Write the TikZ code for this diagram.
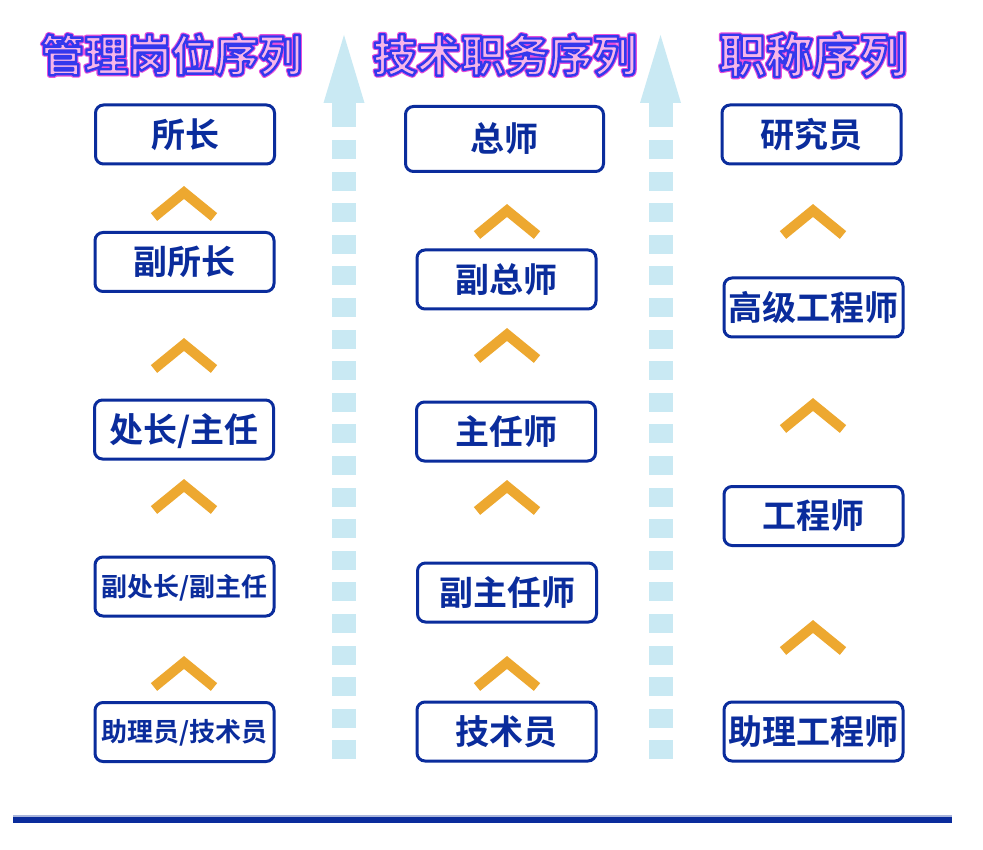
\documentclass[tikz,border=0pt]{standalone}
\usepackage{fontspec}
\usetikzlibrary{calc}
\newfontfamily\cjk[BoldFont={Noto Sans CJK SC Bold}]{Noto Sans CJK SC}
\definecolor{boxblue}{HTML}{0A2C9C}
\definecolor{chevorange}{HTML}{EDA830}
\definecolor{arrowblue}{HTML}{C9E9F3}
\newcommand\glowtext[1]{%
  \special{pdf:code q 1 Tr 4.6 w 1 j 0.91 0.31 0.85 RG}%
  #1%
  \special{pdf:code Q}}
\newcommand\outlinedtext[1]{%
  \special{pdf:code q 2 Tr 2.4 w 1 j 0.20 0.22 0.93 RG 0.969 0.710 0.914 rg}%
  #1%
  \special{pdf:code Q}}
\newcommand\drawtitle[4]{% position, size, text, name
  \node[ttl, font=\cjk\bfseries\fontsize{#2}{#2}\selectfont] at (#1)
    {\glowtext{#3}};
  \node[ttl, font=\cjk\bfseries\fontsize{#2}{#2}\selectfont] (#4) at (#1)
    {\outlinedtext{#3}};
}
\begin{document}
\begin{tikzpicture}[x=1pt,y=-1pt,
  box/.style={draw=boxblue, line width=3pt, rounded corners=8pt, fill=white,
    text=boxblue, inner sep=0pt, minimum width=179pt, minimum height=59pt,
    font=\cjk\bfseries\fontsize{34}{34}\selectfont, text height=28.2pt, text depth=2.4pt},
  smallbox/.style={box, font=\cjk\bfseries\fontsize{26}{26}\selectfont,
    text height=21.6pt, text depth=1.8pt},
  chev/.style={draw=chevorange, line width=10pt, line join=miter, line cap=butt},
  ttl/.style={inner sep=0pt, anchor=base},
  arrowfill/.style={fill=arrowblue},
  baseline/.style={draw=boxblue, line width=6pt}
]
\useasboundingbox (0,0) rectangle (983,850);
\fill[white] (0,0) rectangle (983,850);

% dashed arrows
\foreach \cx in {344,660.5}{
  \fill[arrowfill] (\cx-20.5,103) -- (\cx,35) -- (\cx+20.5,103) -- cycle;
  \fill[arrowfill] (\cx-12,102) rectangle (\cx+12,127);
  \foreach \i in {0,...,19}
    \fill[arrowfill] (\cx-12,140+31.6*\i) rectangle (\cx+12,159+31.6*\i);
}

% titles
\drawtitle{171.5,71.5}{43.5}{管理岗位序列}{t1}
\drawtitle{505,71.7}{44}{技术职务序列}{t2}
\drawtitle{813,72.8}{47}{职称序列}{t3}

% column 1
\node[box] (a1) at (185,134.5) {所长};
\node[box] (a2) at (184.5,262) {副所长};
\node[box] (a3) at (184,429.5) {处长/主任};
\node[smallbox] (a4) at (184.5,586.5) {副处长/副主任};
\node[smallbox] (a5) at (184.5,732) {助理员/技术员};

% column 2
\node[box, minimum width=198pt, minimum height=65pt] (b1) at (504.5,139) {总师};
\node[box] (b2) at (506.5,279.5) {副总师};
\node[box] (b3) at (506,431.5) {主任师};
\node[box] (b4) at (507,592.5) {副主任师};
\node[box] (b5) at (506.5,731.5) {技术员};

% column 3
\node[box] (c1) at (811.5,134.5) {研究员};
\node[box] (c2) at (813.5,307.5) {高级工程师};
\node[box] (c3) at (813.5,516) {工程师};
\node[box] (c4) at (813.5,731.5) {助理工程师};

% chevrons
\foreach \cx/\cy in {184/186, 184/338, 184/479, 184/656,
                     507/204, 507/328, 507/480, 507/656,
                     813/204, 813/398, 813/620}
  \draw[chev] (\cx-30,\cy+31) -- (\cx,\cy+6.5) -- (\cx+30,\cy+31);

% bottom line
\draw[boxblue!35, line width=1.5pt] (13,816) -- (952,816);
\draw[baseline] (13,820) -- (952,820);
\end{tikzpicture}
\end{document}
